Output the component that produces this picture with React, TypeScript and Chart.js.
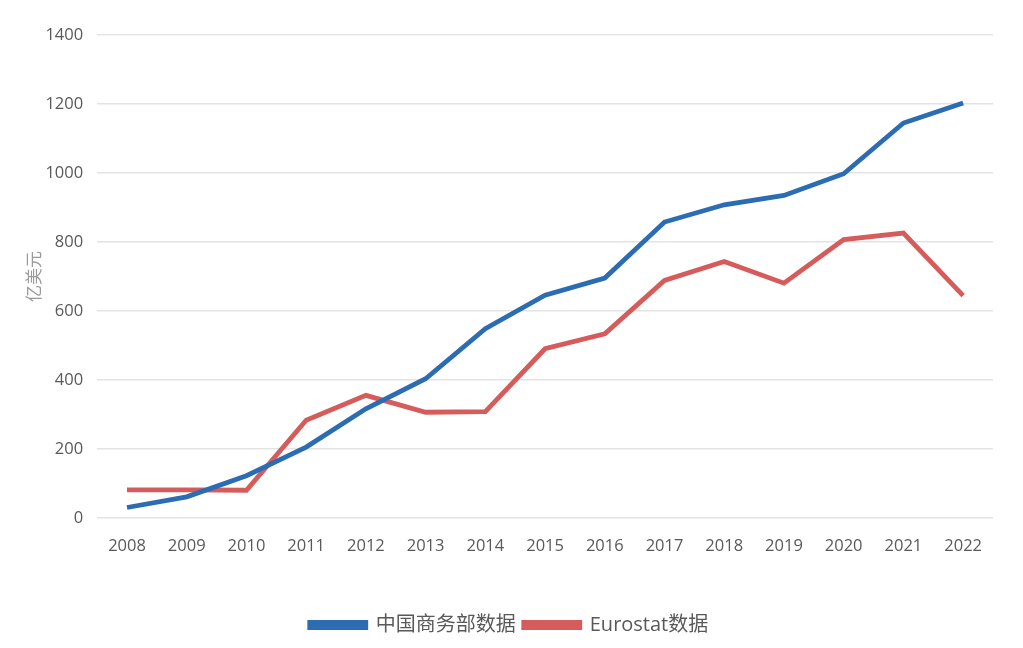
import React, { useRef, useEffect } from 'react';
import Chart from 'chart.js/auto';

const years = ['2008', '2009', '2010', '2011', '2012', '2013', '2014', '2015', '2016', '2017', '2018', '2019', '2020', '2021', '2022'];
const mofcomData = [31, 62, 123, 206, 317, 404, 549, 646, 696, 858, 908, 935, 998, 1145, 1203];
const eurostatData = [82, 82, 81, 284, 356, 307, 309, 491, 534, 689, 744, 681, 807, 826, 645];

const FONT = '"Open Sans", "Noto Sans CJK SC", sans-serif';

const App: React.FC = () => {
  const canvasRef = useRef<HTMLCanvasElement>(null);

  useEffect(() => {
    document.body.style.margin = '0';
    let chart: Chart | null = null;
    if (canvasRef.current) {
      chart = new Chart(canvasRef.current, {
        type: 'line',
        data: {
          labels: years,
          datasets: [
            {
              label: '中国商务部数据',
              data: mofcomData,
              borderColor: '#2b6cb3',
              backgroundColor: '#2b6cb3',
              borderWidth: 4.8,
              pointRadius: 0,
              tension: 0,
            },
            {
              label: 'Eurostat数据',
              data: eurostatData,
              borderColor: '#d65b5b',
              backgroundColor: '#d65b5b',
              borderWidth: 4.8,
              pointRadius: 0,
              tension: 0,
            },
          ],
        },
        options: {
          responsive: false,
          animation: false,
          layout: { padding: { top: 35, right: 30, left: 25, bottom: 3 } },
          plugins: {
            tooltip: { enabled: false },
            legend: {
              position: 'bottom',
              labels: {
                boxWidth: 56,
                boxHeight: 5,
                padding: 8,
                color: '#595959',
                font: { family: FONT, size: 20 },
              },
            },
          },
          scales: {
            x: {
              offset: true,
              grid: { display: false, drawTicks: false },
              border: { display: false },
              ticks: { color: '#595959', font: { family: FONT, size: 16.5 }, padding: 18 },
              afterFit: (scale: any) => {
                scale.height += 33;
              },
            },
            y: {
              min: 0,
              max: 1400,
              ticks: {
                stepSize: 200,
                color: '#595959',
                font: { family: FONT, size: 16.5 },
                padding: 14,
                callback: (v: any) => String(v),
              },
              grid: { color: '#e3e3e3', lineWidth: 1.5, drawTicks: false },
              border: { display: false },
              title: {
                display: true,
                text: '亿美元',
                color: '#9a9a9a',
                font: { family: FONT, size: 17 },
                padding: { top: 0, bottom: -14 },
              },
            },
          },
        },
      });
    }
    return () => {
      chart && chart.destroy();
    };
  }, []);

  return (
    <div style={{ width: 1023, height: 648, background: '#fff' }}>
      <canvas ref={canvasRef} width={1023} height={648} />
    </div>
  );
};

export default App;
